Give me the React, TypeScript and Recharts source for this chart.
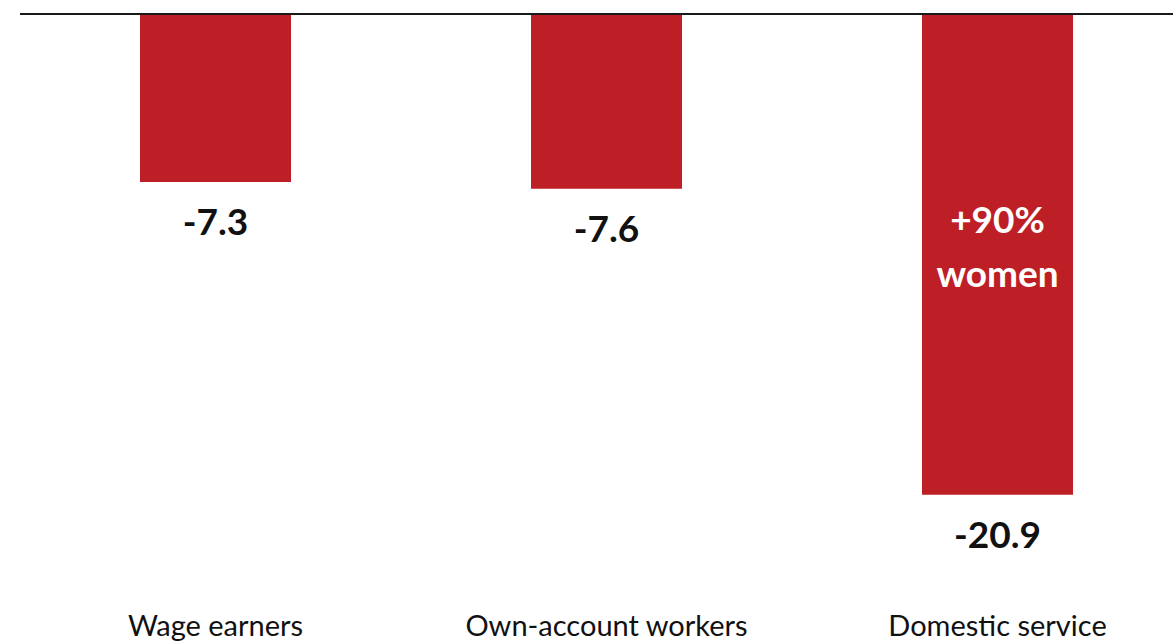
import { BarChart, Bar, XAxis, YAxis, ReferenceLine, LabelList } from "recharts";

const categories = ["Wage earners", "Own-account workers", "Domestic service"];
const changes = [-7.3, -7.6, -20.9];
const notes: string[][] = [[], [], ["+90%", "women"]];

const data = categories.map((name, i) => ({ name, change: changes[i] }));

const FONT = "Lato, 'Open Sans', sans-serif";

function CategoryTick(props: any) {
  const { x, y, payload } = props;
  return (
    <text x={x} y={y} dy={47} textAnchor="middle" fontSize={29} fontFamily={FONT} fill="#111">
      {payload.value}
    </text>
  );
}

function ValueLabel(props: any) {
  const { x, y, width, height, index } = props;
  const top = Math.min(y, y + height);
  const bottom = Math.max(y, y + height);
  const cx = x + width / 2;
  const note = notes[index] || [];
  return (
    <g>
      <text x={cx} y={bottom + 53} textAnchor="middle" fontSize={37} fontWeight={700} fontFamily={FONT} fill="#111">
        {changes[index].toFixed(1)}
      </text>
      {note.map((line, k) => (
        <text key={k} x={cx} y={top + 219 + k * 54} textAnchor="middle" fontSize={37} fontWeight={700} fontFamily={FONT} fill="#fff">
          {line}
        </text>
      ))}
    </g>
  );
}

export default function App() {
  return (
    <div style={{ position: "absolute", left: 0, top: 0, width: 1173, height: 643, overflow: "hidden", background: "#fff" }}>
      <BarChart width={1193} height={643} data={data} margin={{ top: 14, right: 0, left: 20, bottom: 0 }}>
        <XAxis
          dataKey="name"
          axisLine={false}
          tickLine={false}
          tickSize={0}
          tickMargin={0}
          height={54}
          interval={0}
          tick={<CategoryTick />}
        />
        <YAxis hide domain={[-25, 0]} />
        <Bar dataKey="change" fill="#be1e25" barSize={151} isAnimationActive={false}>
          <LabelList dataKey="change" content={<ValueLabel />} />
        </Bar>
        <ReferenceLine y={0} stroke="#1a1a1a" strokeWidth={2} />
      </BarChart>
    </div>
  );
}
